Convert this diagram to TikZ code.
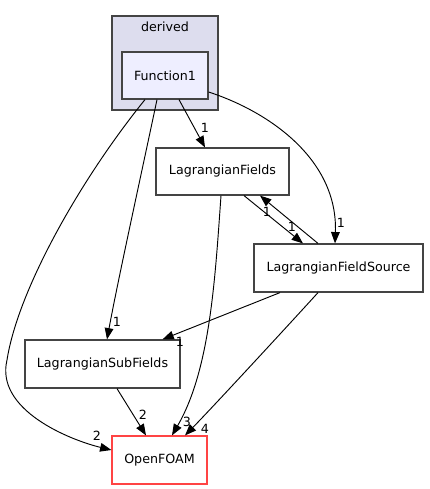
\documentclass[tikz,border=0pt]{standalone}
\usepackage{fontspec}
\setmainfont{DejaVu Sans}
\usepackage{tikz}
\usetikzlibrary{arrows.meta, positioning, calc}
\usepackage{xcolor}
\definecolor{clusterfill}{RGB}{221,221,238}
\definecolor{dirfill}{RGB}{238,238,255}
\definecolor{dirdraw}{RGB}{68,68,68}
\definecolor{pkgred}{RGB}{255,68,68}
\tikzset{
  % Directory box (parameterized by border colour)
  dirnode/.style={
    rectangle, draw=#1, fill=white, line width=0.9pt,
    font=\fontsize{9.5}{11}\selectfont, inner sep=0pt
  },
  dirnode/.default=dirdraw,
  clusterbox/.style={draw=dirdraw, fill=clusterfill, line width=0.9pt},
  depline/.style={-{Triangle[length=8.5pt, width=6.5pt]}, line width=0.7pt, black},
  countlabel/.style={font=\fontsize{9.5}{11}\selectfont, inner sep=0pt}
}

\begin{document}
\begin{tikzpicture}[x=0.75pt, y=-0.75pt]
  \useasboundingbox (0,0) rectangle (429,489);

  % Cluster: derived
  \draw[clusterbox] (112,16) rectangle (218,110);
  \node[countlabel] (derivedlbl) at (165,27) {derived};

  % Row 0: source directory
  \node[dirnode, fill=dirfill, minimum width=64.5pt, minimum height=35.25pt] (func) at (165,75.5) {Function1};

  % Row 1-2: Lagrangian directories
  \node[dirnode, minimum width=99.75pt, minimum height=35.25pt] (fields) at (222.5,171.5) {LagrangianFields};
  \node[dirnode, minimum width=126.75pt, minimum height=36pt] (source) at (338.5,268) {LagrangianFieldSource};
  \node[dirnode, minimum width=116.25pt, minimum height=36pt] (subfields) at (102.5,364) {LagrangianSubFields};

  % Row 3: OpenFOAM
  \node[dirnode=pkgred, minimum width=71.25pt, minimum height=36pt] (foam) at (159.5,460) {OpenFOAM};

  % --- Function1 dependencies ---
  \draw[depline] ($(func.south)+(14,0)$) -- ($(fields.north)+(-17.5,0)$);
  \node[countlabel] (l1) at (205,128) {1};
  \draw[depline] ($(func.south)+(-8,0)$) .. controls (140,180) and (118,280) .. ($(subfields.north)+(4.5,0)$);
  \node[countlabel] (l2) at (117,322) {1};
  \draw[depline] ($(func.south)+(-20,0)$) .. controls (80,180) and (18,290) .. (7,360)
    .. controls (-5,410) and (70,440) .. ($(foam.west)+(0,-10)$);
  \node[countlabel] (l3) at (97,436) {2};
  \draw[depline] ($(func.east)+(0,16.5)$) .. controls (270,112) and (338,160) .. ($(source.north)+(-3.5,0)$);
  \node[countlabel] (l4) at (341,223) {1};

  % --- Fields <-> FieldSource ---
  \draw[depline] ($(fields.south)+(21.5,0)$) -- ($(source.north)+(-35.5,0)$);
  \node[countlabel] (l5) at (292,227) {1};
  \draw[depline] ($(source.north)+(-20.5,0)$) -- ($(fields.south)+(37.5,0)$);
  \node[countlabel] (l6) at (267,212) {1};

  % --- Lower-level dependencies ---
  \draw[depline] ($(source.south)+(-58.5,0)$) -- ($(subfields.north)+(60,0)$);
  \node[countlabel] (l7) at (180,342) {1};
  \draw[depline] ($(source.south)+(-20.5,0)$) .. controls (295,318) and (212,408) .. ($(foam.north)+(25.5,0)$);
  \node[countlabel] (l8) at (205,429) {4};
  \draw[depline] ($(fields.south)+(-1.5,0)$) .. controls (215,280) and (210,370) .. ($(foam.north)+(12.5,0)$);
  \node[countlabel] (l9) at (187,422) {3};
  \draw[depline] ($(subfields.south)+(14.5,0)$) -- ($(foam.north)+(-13.5,0)$);
  \node[countlabel] (l10) at (143,415) {2};
\end{tikzpicture}
\end{document}
